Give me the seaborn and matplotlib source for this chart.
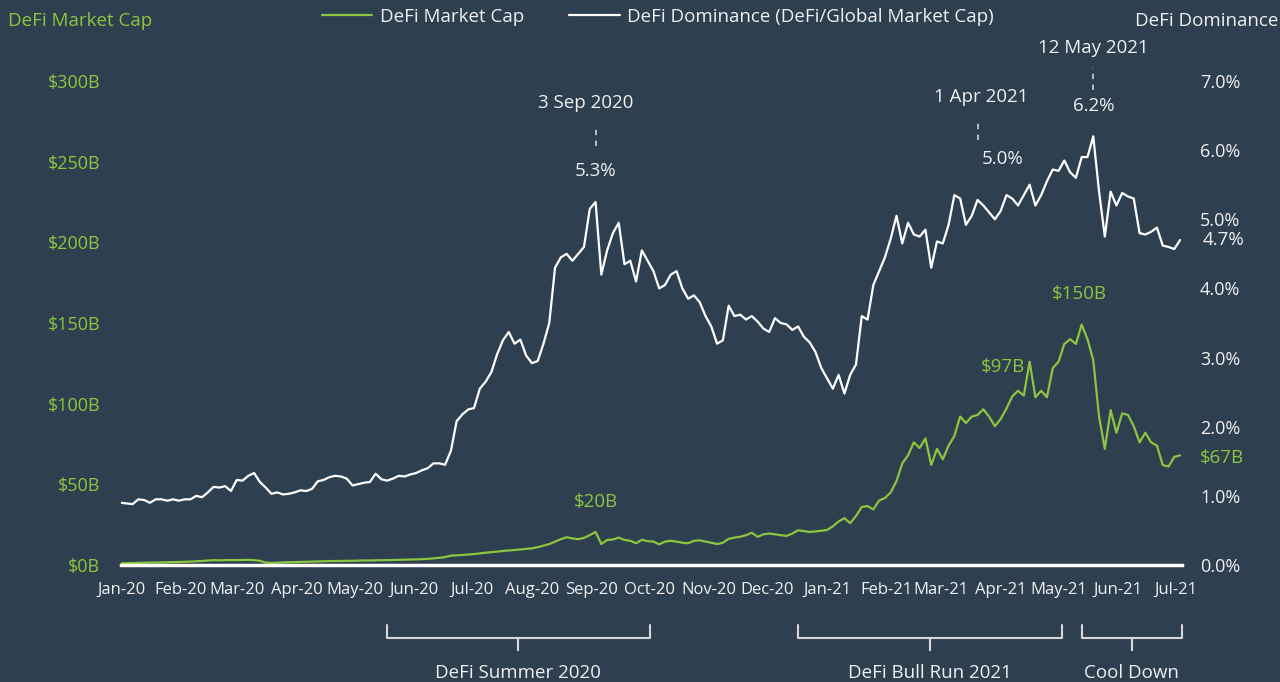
import matplotlib

matplotlib.use("Agg")
import matplotlib.dates as mdates  # noqa: E402
import matplotlib.pyplot as plt  # noqa: E402
import pandas as pd
import seaborn as sns
from matplotlib.lines import Line2D
from matplotlib.ticker import FuncFormatter, MultipleLocator

BG = "#2e3f4f"
GREEN = "#8cc63f"
WHITE = "#ffffff"
TEXT = "#f0f0f0"
DASH = "#c8c8c8"

# one reading every 3 days, starting 1 Jan 2020
START = "2020-01-01"

# DeFi market cap, $B
defi_mcap = [
    1.0, 1.1, 1.2, 1.3, 1.4, 1.5, 1.5, 1.6, 1.7, 1.8,
    1.9, 2.0, 2.1, 2.3, 2.5, 2.8, 3.0, 2.9, 3.0, 3.1,
    3.0, 3.1, 3.2, 3.0, 2.6, 1.5, 1.3, 1.4, 1.6, 1.7,
    1.8, 1.9, 2.0, 2.1, 2.2, 2.3, 2.4, 2.5, 2.5, 2.6,
    2.6, 2.7, 2.8, 2.8, 2.9, 3.0, 3.0, 3.1, 3.2, 3.3,
    3.4, 3.5, 3.6, 3.8, 4.1, 4.5, 4.9, 5.8, 6.0, 6.2,
    6.5, 6.8, 7.2, 7.6, 8.0, 8.3, 8.7, 9.0, 9.3, 9.6,
    10.0, 10.3, 11.0, 12.0, 13.0, 14.5, 16.0, 17.2, 16.5, 16.0,
    16.8, 18.5, 20.5, 13.0, 15.5, 15.8, 17.0, 15.5, 15.0, 13.5,
    15.6, 14.8, 14.5, 12.8, 14.5, 15.0, 14.5, 13.8, 13.5, 15.0,
    15.3, 14.5, 13.8, 13.0, 13.8, 16.2, 17.0, 17.5, 18.5, 20.0,
    17.5, 19.0, 19.5, 19.0, 18.5, 18.0, 19.5, 21.5, 21.0, 20.5,
    20.8, 21.2, 21.7, 24.0, 27.0, 29.0, 25.9, 30.4, 36.0, 36.5,
    34.5, 40.0, 41.5, 45.0, 52.0, 63.0, 68.0, 76.0, 72.5, 78.5,
    62.0, 72.0, 65.5, 74.0, 80.0, 92.0, 88.0, 92.0, 93.0, 96.5,
    92.0, 86.0, 90.5, 97.0, 104.5, 108.0, 105.0, 126.0, 104.0, 108.0,
    104.0, 122.0, 126.0, 137.0, 140.0, 137.0, 149.0, 140.0, 127.0, 92.0,
    72.0, 96.0, 82.0, 94.0, 93.0, 86.0, 76.0, 82.0, 76.0, 74.0,
    62.0, 61.0, 67.0, 68.0,
]

# DeFi dominance, % of global crypto market cap
defi_dominance = [
    0.90, 0.89, 0.88, 0.95, 0.94, 0.90, 0.95, 0.95, 0.93, 0.95,
    0.93, 0.95, 0.95, 1.00, 0.98, 1.05, 1.13, 1.12, 1.14, 1.07,
    1.23, 1.22, 1.29, 1.33, 1.20, 1.12, 1.03, 1.05, 1.02, 1.03,
    1.05, 1.08, 1.07, 1.10, 1.21, 1.23, 1.27, 1.29, 1.28, 1.25,
    1.15, 1.17, 1.19, 1.20, 1.32, 1.24, 1.22, 1.25, 1.29, 1.28,
    1.31, 1.33, 1.37, 1.40, 1.47, 1.47, 1.45, 1.65, 2.08, 2.18,
    2.25, 2.27, 2.55, 2.65, 2.79, 3.05, 3.25, 3.37, 3.20, 3.26,
    3.03, 2.92, 2.95, 3.20, 3.50, 4.30, 4.45, 4.50, 4.40, 4.50,
    4.60, 5.15, 5.25, 4.20, 4.55, 4.80, 4.95, 4.35, 4.40, 4.10,
    4.55, 4.40, 4.25, 4.00, 4.05, 4.20, 4.25, 4.00, 3.85, 3.90,
    3.80, 3.60, 3.45, 3.20, 3.25, 3.75, 3.60, 3.62, 3.55, 3.60,
    3.52, 3.42, 3.37, 3.57, 3.50, 3.48, 3.40, 3.45, 3.30, 3.22,
    3.08, 2.85, 2.70, 2.55, 2.75, 2.48, 2.75, 2.90, 3.60, 3.55,
    4.05, 4.25, 4.45, 4.72, 5.05, 4.65, 4.95, 4.78, 4.75, 4.85,
    4.30, 4.68, 4.65, 4.92, 5.35, 5.30, 4.92, 5.05, 5.28, 5.20,
    5.10, 5.00, 5.12, 5.35, 5.30, 5.20, 5.35, 5.50, 5.20, 5.35,
    5.55, 5.72, 5.70, 5.85, 5.68, 5.60, 5.90, 5.90, 6.20, 5.40,
    4.75, 5.40, 5.20, 5.38, 5.33, 5.30, 4.80, 4.78, 4.82, 4.88,
    4.62, 4.60, 4.57, 4.70,
]

# dominance callouts: date label, dominance text
callout_labels = ["3 Sep 2020", "1 Apr 2021", "12 May 2021"]
callout_values = ["5.3%", "5.0%", "6.2%"]
# where each piece sits on the chart (date, dominance-axis height)
callout_label_pos = [("2020-08-29", 6.68), ("2021-03-22", 6.77), ("2021-05-19", 7.48)]
callout_dash_pos = [("2020-09-03", 6.06, 6.32), ("2021-03-20", 6.15, 6.44), ("2021-05-19", 6.87, 7.19)]
callout_value_pos = [("2020-09-03", 5.70), ("2021-04-02", 5.87), ("2021-05-19", 6.64)]

mcap_labels = ["$20B", "$97B", "$150B"]
mcap_label_pos = [("2020-09-03", 39), ("2021-04-02", 122.8), ("2021-05-12", 168)]

phase_labels = ["DeFi Summer 2020", "DeFi Bull Run 2021", "Cool Down"]
phase_spans = [("2020-05-18", "2020-10-01"), ("2020-12-17", "2021-05-03"), ("2021-05-13", "2021-07-04")]

sns.set_theme(style="dark")
plt.rcParams["font.family"] = ["Open Sans", "DejaVu Sans"]

df = pd.DataFrame(
    {
        "date": pd.date_range(START, periods=len(defi_mcap), freq="3D"),
        "mcap": defi_mcap,
        "dominance": defi_dominance,
    }
)

fig = plt.figure(figsize=(12.8, 6.82), dpi=100, facecolor=BG)
ax = fig.add_axes([121 / 1280, 1 - 565 / 682, 1061 / 1280, 484 / 682])
ax.set_facecolor(BG)
ax2 = ax.twinx()

sns.lineplot(data=df, x="date", y="mcap", ax=ax, color=GREEN, linewidth=1.6)
sns.lineplot(data=df, x="date", y="dominance", ax=ax2, color=WHITE, linewidth=1.6)

ax.set_xlim(pd.Timestamp("2020-01-01"), pd.Timestamp("2021-07-04"))
ax.set_ylim(0, 300)
ax2.set_ylim(0, 7)
ax.yaxis.set_major_locator(MultipleLocator(50))
ax2.yaxis.set_major_locator(MultipleLocator(1))
ax.yaxis.set_major_formatter(FuncFormatter(lambda v, _: f"${v:.0f}B"))
ax2.yaxis.set_major_formatter(FuncFormatter(lambda v, _: f"{v:.1f}%"))
ax.xaxis.set_major_locator(mdates.MonthLocator())
ax.xaxis.set_major_formatter(mdates.DateFormatter("%b-%y"))

ax.tick_params(axis="x", length=0, pad=12, labelsize=12, colors=TEXT)
ax.tick_params(axis="y", length=0, pad=15, labelsize=13, colors=GREEN)
ax2.tick_params(axis="y", length=0, pad=13, labelsize=13, colors=TEXT)
ax.set_xlabel("")
ax.set_ylabel("")
ax2.set_ylabel("")
ax.grid(False)
ax2.grid(False)
for a in (ax, ax2):
    for s in a.spines.values():
        s.set_visible(False)
ax.spines["bottom"].set_visible(True)
ax.spines["bottom"].set_color(WHITE)
ax.spines["bottom"].set_linewidth(2.5)

# callouts on the dominance line
for label, value, (ld, ly), (dd, d0, d1), (vd, vy) in zip(
    callout_labels, callout_values, callout_label_pos, callout_dash_pos, callout_value_pos
):
    ax2.text(pd.Timestamp(ld), ly, label, ha="center", va="center",
             color=TEXT, fontsize=13.5, clip_on=False)
    ax2.plot([pd.Timestamp(dd)] * 2, [d0, d1], color=DASH, linewidth=1.3,
             linestyle=(0, (3, 3)), clip_on=False)
    ax2.text(pd.Timestamp(vd), vy, value, ha="center", va="center",
             color=TEXT, fontsize=13.5, clip_on=False)

for text, (date, y) in zip(mcap_labels, mcap_label_pos):
    ax.text(pd.Timestamp(date), y, text, ha="center", va="center", color=GREEN, fontsize=13.5)

# end-of-line values
ax2.text(1.019, defi_dominance[-1], "4.7%", transform=ax2.get_yaxis_transform(),
         ha="left", va="center", color=TEXT, fontsize=13.5)
ax.text(1.017, 66.3, "$67B", transform=ax.get_yaxis_transform(),
        ha="left", va="center", color=GREEN, fontsize=13.5)

# phase brackets under the axis
trans = ax.get_xaxis_transform()
for label, (start, end) in zip(phase_labels, phase_spans):
    s = mdates.date2num(pd.Timestamp(start))
    e = mdates.date2num(pd.Timestamp(end))
    m = (s + e) / 2
    top, mid, low = -0.124, -0.151, -0.176
    ax.plot([s, s, m, m, m, e, e], [top, mid, mid, low, mid, mid, top], transform=trans,
            color="#d8d8d8", linewidth=1.5, clip_on=False, solid_joinstyle="round")
    ax.text(m, -0.224, label, transform=trans, ha="center", va="center",
            color=TEXT, fontsize=13.5)

fig.text(8 / 1280, 1 - 21 / 682, "DeFi Market Cap", ha="left", va="center",
         color=GREEN, fontsize=13.5)
fig.text(1278 / 1280, 1 - 21 / 682, "DeFi Dominance", ha="right", va="center",
         color=TEXT, fontsize=13.5)

handles = [
    Line2D([0], [0], color=GREEN, linewidth=1.6),
    Line2D([0], [0], color=WHITE, linewidth=1.6),
]
leg = fig.legend(handles, ["DeFi Market Cap", "DeFi Dominance (DeFi/Global Market Cap)"],
                 loc="center", bbox_to_anchor=(0.514, 1 - 17 / 682), ncol=2, frameon=False,
                 fontsize=13.5, handlelength=2.7, handletextpad=0.4, columnspacing=2.4)
for t in leg.get_texts():
    t.set_color(TEXT)

fig.savefig("out.png", dpi=100, facecolor=BG)
plt.close(fig)
